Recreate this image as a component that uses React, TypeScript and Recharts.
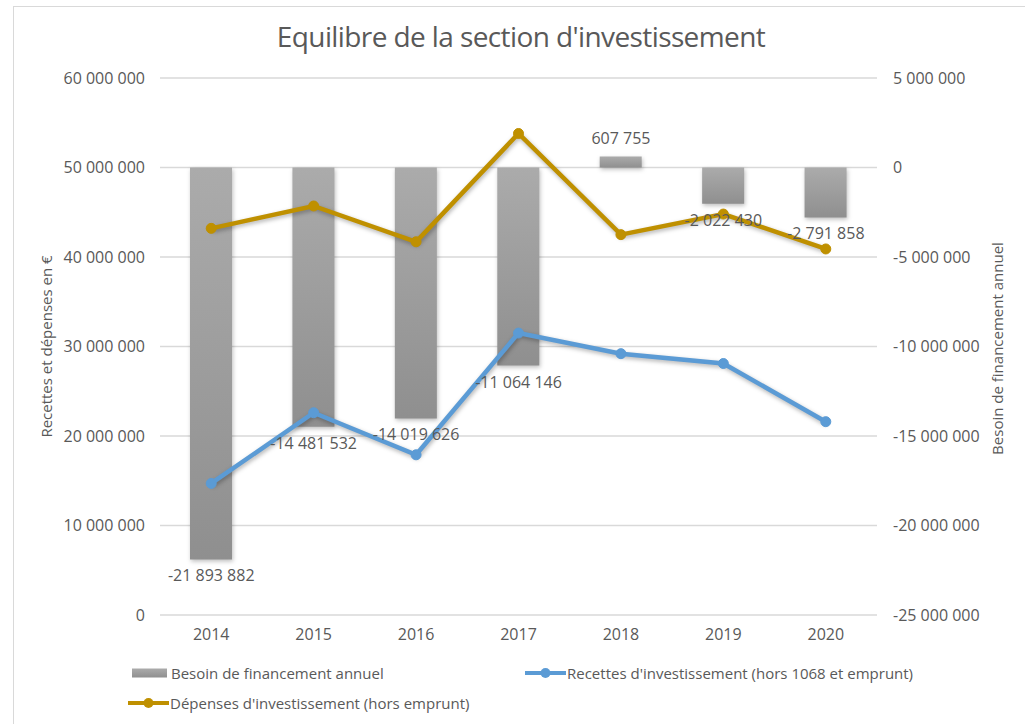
import React from 'react'
import {
  ComposedChart,
  Bar,
  Line,
  XAxis,
  YAxis,
  CartesianGrid,
  LabelList,
} from 'recharts'

const years = ['2014', '2015', '2016', '2017', '2018', '2019', '2020']
const besoin = [-21893882, -14481532, -14019626, -11064146, 607755, -2022430, -2791858]
const recettes = [14700000, 22600000, 17900000, 31500000, 29200000, 28100000, 21600000]
const depenses = [43200000, 45700000, 41700000, 53800000, 42500000, 44800000, 40900000]
const leftTicks = [0, 10000000, 20000000, 30000000, 40000000, 50000000, 60000000]
const rightTicks = [-25000000, -20000000, -15000000, -10000000, -5000000, 0, 5000000]

const data = years.map((year, i) => ({
  year,
  besoin: besoin[i],
  recettes: recettes[i],
  depenses: depenses[i],
}))

const FONT = '"Open Sans", sans-serif'
const TEXT = '#595959'
const GOLD = '#bf9000'
const BLUE = '#5b9bd5'

const formatNumber = (value: number) => {
  const s = Math.abs(Math.round(value)).toString().replace(/\B(?=(\d{3})+(?!\d))/g, ' ')
  return (value < 0 ? '-' : '') + s
}

// label drawn from the end point of the bar value (rendered above the lines)
const BarValueLabel = (props: any) => {
  const { x, y, value } = props
  const cy = value < 0 ? y + 22 : y - 13
  return (
    <text x={x} y={cy} textAnchor="middle" fill={TEXT} fontSize={16} fontFamily={FONT}>
      {formatNumber(value)}
    </text>
  )
}

const LegendItem = ({ type, color, label }: { type: 'bar' | 'line'; color: string; label: string }) => (
  <div style={{ display: 'flex', alignItems: 'center', whiteSpace: 'nowrap' }}>
    <svg width={type === 'bar' ? 35 : 41} height={12} style={{ marginRight: type === 'bar' ? 4 : 1 }}>
      {type === 'bar' ? (
        <rect x={0} y={1.5} width={35} height={9} fill="url(#legendGrad)" />
      ) : (
        <g>
          <line x1={0} y1={6} x2={41} y2={6} stroke={color} strokeWidth={4} />
          <circle cx={20.5} cy={6} r={5} fill={color} />
        </g>
      )}
    </svg>
    <span style={{ fontSize: 15, color: TEXT, lineHeight: '20px' }}>{label}</span>
  </div>
)

export default function App() {
  return (
    <div
      style={{
        position: 'absolute',
        left: 0,
        top: 0,
        width: 1025,
        height: 724,
        background: '#fff',
        fontFamily: FONT,
        overflow: 'hidden',
      }}
    >
      <style>{`
        .recharts-line-curve { filter: drop-shadow(1px 2px 2px rgba(0,0,0,0.3)); }
        .recharts-bar-rectangle path { filter: drop-shadow(1px 2px 2px rgba(0,0,0,0.25)); }
      `}</style>
      <div
        style={{
          position: 'absolute',
          left: 13,
          top: 6,
          width: 1030,
          height: 730,
          border: '1px solid #d9d9d9',
        }}
      />
      <div
        style={{
          position: 'absolute',
          top: 17,
          left: 0,
          width: 1042,
          textAlign: 'center',
          fontSize: 28,
          color: TEXT,
          letterSpacing: -0.6,
        }}
      >
        Equilibre de la section d'investissement
      </div>
      <div style={{ position: 'absolute', left: 0, top: 0 }}>
        <ComposedChart
          width={1025}
          height={724}
          data={data}
          margin={{ top: 78, right: 0, bottom: 79, left: 0 }}
        >
          <defs>
            <linearGradient id="barGrad" x1="0" y1="0" x2="0" y2="1">
              <stop offset="0%" stopColor="#ababab" />
              <stop offset="100%" stopColor="#8f8f8f" />
            </linearGradient>
          </defs>
          <CartesianGrid vertical={false} stroke="#d9d9d9" strokeWidth={1.5} yAxisId="left" />
          <XAxis
            dataKey="year"
            axisLine={false}
            tickLine={false}
            tickSize={0}
            tickMargin={14}
            height={30}
            tick={{ fill: TEXT, fontSize: 16, fontFamily: FONT }}
          />
          <YAxis
            yAxisId="left"
            orientation="left"
            width={160}
            domain={[0, 60000000]}
            ticks={leftTicks}
            axisLine={false}
            tickLine={false}
            tickSize={0}
            tickMargin={15}
            tickFormatter={formatNumber}
            tick={{ fill: TEXT, fontSize: 16, fontFamily: FONT }}
            label={(p: any) => {
              const vb = p.viewBox
              const cx = 46
              const cy = vb.y + vb.height / 2
              return (
                <text
                  x={cx}
                  y={cy}
                  transform={`rotate(-90 ${cx} ${cy})`}
                  textAnchor="middle"
                  dominantBaseline="central"
                  fill={TEXT}
                  fontSize={15}
                  fontFamily={FONT}
                >
                  Recettes et dépenses en €
                </text>
              )
            }}
          />
          <YAxis
            yAxisId="right"
            orientation="right"
            width={148}
            domain={[-25000000, 5000000]}
            ticks={rightTicks}
            axisLine={false}
            tickLine={false}
            tickSize={0}
            tickMargin={16}
            tickFormatter={formatNumber}
            tick={{ fill: TEXT, fontSize: 16, fontFamily: FONT, textAnchor: 'start' }}
            label={(p: any) => {
              const vb = p.viewBox
              const cx = 997
              const cy = vb.y + vb.height / 2 + 2
              return (
                <text
                  x={cx}
                  y={cy}
                  transform={`rotate(-90 ${cx} ${cy})`}
                  textAnchor="middle"
                  dominantBaseline="central"
                  fill={TEXT}
                  fontSize={15}
                  fontFamily={FONT}
                >
                  Besoin de financement annuel
                </text>
              )
            }}
          />
          <Bar
            yAxisId="right"
            dataKey="besoin"
            barSize={42}
            fill="url(#barGrad)"
            isAnimationActive={false}
          />
          <Line
            yAxisId="left"
            dataKey="recettes"
            stroke={BLUE}
            strokeWidth={4.5}
            dot={{ r: 5, fill: BLUE, stroke: BLUE, strokeWidth: 1 }}
            isAnimationActive={false}
          />
          <Line
            yAxisId="left"
            dataKey="depenses"
            stroke={GOLD}
            strokeWidth={4.5}
            dot={{ r: 5, fill: GOLD, stroke: GOLD, strokeWidth: 1 }}
            isAnimationActive={false}
          />
          <Line
            yAxisId="right"
            dataKey="besoin"
            stroke="none"
            dot={false}
            activeDot={false}
            legendType="none"
            isAnimationActive={false}
          >
            <LabelList dataKey="besoin" content={<BarValueLabel />} />
          </Line>
        </ComposedChart>
      </div>
      <svg width={0} height={0} style={{ position: 'absolute' }}>
        <defs>
          <linearGradient id="legendGrad" x1="0" y1="0" x2="0" y2="1">
            <stop offset="0%" stopColor="#ababab" />
            <stop offset="100%" stopColor="#8f8f8f" />
          </linearGradient>
        </defs>
      </svg>
      <div style={{ position: 'absolute', left: 132, top: 663 }}>
        <LegendItem type="bar" color="#9d9d9d" label="Besoin de financement annuel" />
      </div>
      <div style={{ position: 'absolute', left: 525, top: 663 }}>
        <LegendItem type="line" color={BLUE} label="Recettes d'investissement (hors 1068 et emprunt)" />
      </div>
      <div style={{ position: 'absolute', left: 128, top: 693 }}>
        <LegendItem type="line" color={GOLD} label="Dépenses d'investissement (hors emprunt)" />
      </div>
    </div>
  )
}
